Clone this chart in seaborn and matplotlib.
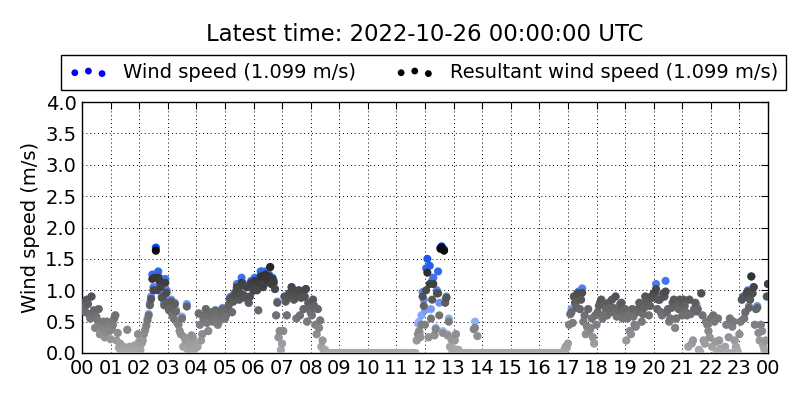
import numpy as np
import pandas as pd
import matplotlib
matplotlib.use("Agg")
import matplotlib.pyplot as plt
from matplotlib.colors import LinearSegmentedColormap
import seaborn as sns

hours_labels = ["00", "01", "02", "03", "04", "05", "06", "07", "08", "09", "10", "11",
                "12", "13", "14", "15", "16", "17", "18", "19", "20", "21", "22", "23", "00"]
y_ticks = [0.0, 0.5, 1.0, 1.5, 2.0, 2.5, 3.0, 3.5, 4.0]
title = "Latest time: 2022-10-26 00:00:00 UTC"
label_ws = "Wind speed (1.099 m/s)"
label_rws = "Resultant wind speed (1.099 m/s)"

# samples on the 5-minute marks (00:05 ... 24:00), one row per hour
wind_speed = [
    0.72, 0.85, 0.62, 0.90, 0.68, 0.58, 0.70, 0.45, 0.50, 0.33, 0.42, 0.22,
    0.45, 0.60, 0.32, 0.15, 0.05, 0.02, 0.37, 0.10, 0.03, 0.12, 0.05, 0.18,
    0.15, 0.30, 0.45, 0.62, 0.90, 1.05, 1.68, 1.30, 1.10, 0.95, 1.18, 0.85,
    0.75, 0.62, 0.80, 0.50, 0.35, 0.58, 0.25, 0.78, 0.12, 0.28, 0.05, 0.15,
    0.63, 0.20, 0.55, 0.70, 0.35, 0.62, 0.50, 0.68, 0.45, 0.60, 0.72, 0.55,
    0.70, 0.88, 0.65, 0.95, 1.10, 0.85, 1.20, 0.92, 1.05, 0.80, 1.15, 1.00,
    1.10, 0.68, 1.30, 1.05, 1.30, 1.15, 1.37, 1.20, 1.02, 0.82, 0.35, 0.15,
    0.90, 0.60, 0.95, 1.05, 0.85, 0.55, 1.00, 0.88, 0.70, 1.02, 0.80, 0.65,
    0.85, 0.45, 0.70, 0.52, 0.20, 0.05, 0.00, 0.00, 0.00, 0.00, 0.00, 0.00,
    0.00, 0.00, 0.00, 0.00, 0.00, 0.00, 0.00, 0.00, 0.00, 0.00, 0.00, 0.00,
    0.00, 0.00, 0.00, 0.00, 0.00, 0.00, 0.00, 0.00, 0.00, 0.00, 0.00, 0.00,
    0.00, 0.00, 0.00, 0.00, 0.00, 0.00, 0.00, 0.00, 0.47, 0.32, 0.97, 0.68,
    1.50, 1.39, 1.15, 0.30, 1.00, 0.80, 1.70, 1.65, 0.90, 0.55, 0.25, 0.08,
    0.30, 0.05, 0.00, 0.00, 0.00, 0.00, 0.00, 0.00, 0.50, 0.27, 0.00, 0.00,
    0.00, 0.00, 0.00, 0.00, 0.00, 0.00, 0.00, 0.00, 0.00, 0.00, 0.00, 0.00,
    0.00, 0.00, 0.00, 0.00, 0.00, 0.00, 0.00, 0.00, 0.00, 0.00, 0.00, 0.00,
    0.00, 0.00, 0.00, 0.00, 0.00, 0.00, 0.00, 0.00, 0.00, 0.00, 0.10, 0.15,
    0.62, 0.48, 0.80, 0.95, 0.70, 1.03, 0.60, 0.42, 0.35, 0.55, 0.15, 0.45,
    0.75, 0.85, 0.60, 0.70, 0.80, 0.65, 0.72, 0.90, 0.68, 0.78, 0.55, 0.70,
    0.55, 0.35, 0.70, 0.45, 0.65, 0.80, 0.50, 0.72, 0.85, 0.60, 0.90, 0.95,
    1.10, 0.85, 0.65, 0.95, 1.15, 0.70, 0.55, 0.80, 0.40, 0.75, 0.85, 0.60,
    0.75, 0.60, 0.85, 0.15, 0.70, 0.76, 0.05, 0.95, 0.20, 0.50, 0.35, 0.55,
    0.60, 0.18, 0.55, 0.07, 0.00, 0.10, 0.00, 0.55, 0.42, 0.20, 0.05, 0.30,
    0.85, 0.55, 0.95, 0.75, 1.22, 1.05, 0.70, 0.32, 0.45, 0.12, 0.20, 1.099,
]

resultant_speed = [
    0.72, 0.85, 0.62, 0.90, 0.68, 0.58, 0.70, 0.45, 0.50, 0.33, 0.42, 0.22,
    0.45, 0.60, 0.32, 0.15, 0.05, 0.02, 0.37, 0.10, 0.03, 0.12, 0.05, 0.18,
    0.15, 0.30, 0.43, 0.60, 0.86, 1.00, 1.63, 1.20, 1.05, 0.90, 1.12, 0.80,
    0.72, 0.60, 0.78, 0.48, 0.35, 0.55, 0.25, 0.74, 0.12, 0.28, 0.05, 0.15,
    0.63, 0.20, 0.55, 0.70, 0.35, 0.62, 0.50, 0.68, 0.45, 0.60, 0.70, 0.55,
    0.70, 0.85, 0.65, 0.92, 1.05, 0.85, 1.12, 0.92, 1.05, 0.80, 1.12, 1.00,
    1.05, 0.68, 1.22, 1.05, 1.25, 1.15, 1.37, 1.18, 1.02, 0.80, 0.35, 0.15,
    0.90, 0.60, 0.95, 1.05, 0.85, 0.55, 1.00, 0.88, 0.70, 1.02, 0.80, 0.65,
    0.85, 0.45, 0.70, 0.52, 0.20, 0.05, 0.00, 0.00, 0.00, 0.00, 0.00, 0.00,
    0.00, 0.00, 0.00, 0.00, 0.00, 0.00, 0.00, 0.00, 0.00, 0.00, 0.00, 0.00,
    0.00, 0.00, 0.00, 0.00, 0.00, 0.00, 0.00, 0.00, 0.00, 0.00, 0.00, 0.00,
    0.00, 0.00, 0.00, 0.00, 0.00, 0.00, 0.00, 0.00, 0.30, 0.25, 0.90, 0.45,
    1.28, 1.10, 0.85, 0.28, 0.95, 0.60, 1.68, 1.63, 0.88, 0.50, 0.22, 0.06,
    0.30, 0.05, 0.00, 0.00, 0.00, 0.00, 0.00, 0.00, 0.40, 0.27, 0.00, 0.00,
    0.00, 0.00, 0.00, 0.00, 0.00, 0.00, 0.00, 0.00, 0.00, 0.00, 0.00, 0.00,
    0.00, 0.00, 0.00, 0.00, 0.00, 0.00, 0.00, 0.00, 0.00, 0.00, 0.00, 0.00,
    0.00, 0.00, 0.00, 0.00, 0.00, 0.00, 0.00, 0.00, 0.00, 0.00, 0.10, 0.15,
    0.62, 0.48, 0.80, 0.95, 0.70, 0.96, 0.60, 0.42, 0.35, 0.55, 0.15, 0.45,
    0.75, 0.85, 0.60, 0.70, 0.80, 0.65, 0.72, 0.90, 0.68, 0.78, 0.55, 0.70,
    0.55, 0.35, 0.70, 0.45, 0.65, 0.80, 0.50, 0.72, 0.85, 0.60, 0.90, 0.95,
    1.02, 0.85, 0.65, 0.95, 0.98, 0.70, 0.55, 0.80, 0.40, 0.75, 0.85, 0.60,
    0.75, 0.60, 0.85, 0.15, 0.70, 0.66, 0.05, 0.95, 0.20, 0.50, 0.35, 0.55,
    0.60, 0.18, 0.55, 0.07, 0.00, 0.10, 0.00, 0.55, 0.42, 0.20, 0.05, 0.30,
    0.85, 0.55, 0.95, 0.72, 1.22, 1.05, 0.70, 0.32, 0.45, 0.12, 0.20, 1.099,
]

# samples half-way between the 5-minute marks (00:02:30 ... 23:57:30)
wind_speed_mid = [
    0.80, 0.65, 0.78, 0.55, 0.62, 0.40, 0.52, 0.30, 0.40, 0.25, 0.50, 0.35,
    0.38, 0.55, 0.20, 0.08, 0.00, 0.10, 0.05, 0.00, 0.08, 0.02, 0.10, 0.30,
    0.05, 0.20, 0.38, 0.55, 0.80, 1.25, 1.25, 1.05, 1.20, 0.90, 0.80, 1.00,
    0.70, 0.85, 0.55, 0.68, 0.45, 0.30, 0.10, 0.20, 0.05, 0.15, 0.25, 0.08,
    0.10, 0.45, 0.30, 0.60, 0.48, 0.58, 0.65, 0.55, 0.62, 0.50, 0.65, 0.68,
    0.60, 0.75, 0.90, 0.82, 0.98, 1.05, 0.95, 1.12, 0.88, 1.08, 0.90, 1.10,
    1.20, 1.00, 1.12, 1.30, 1.10, 1.22, 1.25, 1.10, 1.15, 0.60, 0.25, 0.05,
    0.35, 0.82, 0.88, 0.92, 1.00, 0.90, 0.95, 0.60, 0.98, 0.90, 0.50, 0.70,
    0.60, 0.75, 0.30, 0.40, 0.10, 0.02, 0.00, 0.00, 0.00, 0.00, 0.00, 0.00,
    0.00, 0.00, 0.00, 0.00, 0.00, 0.00, 0.00, 0.00, 0.00, 0.00, 0.00, 0.00,
    0.00, 0.00, 0.00, 0.00, 0.00, 0.00, 0.00, 0.00, 0.00, 0.00, 0.00, 0.00,
    0.00, 0.00, 0.00, 0.00, 0.00, 0.00, 0.00, 0.00, 0.20, 0.50, 0.60, 0.85,
    1.35, 0.25, 0.70, 1.20, 0.40, 1.30, 1.68, 0.35, 0.85, 0.30, 0.10, 0.02,
    0.20, 0.02, 0.00, 0.00, 0.00, 0.00, 0.00, 0.00, 0.38, 0.00, 0.00, 0.00,
    0.00, 0.00, 0.00, 0.00, 0.00, 0.00, 0.00, 0.00, 0.00, 0.00, 0.00, 0.00,
    0.00, 0.00, 0.00, 0.00, 0.00, 0.00, 0.00, 0.00, 0.00, 0.00, 0.00, 0.00,
    0.00, 0.00, 0.00, 0.00, 0.00, 0.00, 0.00, 0.00, 0.00, 0.00, 0.05, 0.08,
    0.45, 0.70, 0.90, 0.75, 0.98, 0.85, 0.50, 0.30, 0.70, 0.40, 0.25, 0.60,
    0.65, 0.80, 0.55, 0.78, 0.60, 0.72, 0.85, 0.65, 0.58, 0.70, 0.80, 0.62,
    0.20, 0.60, 0.30, 0.58, 0.42, 0.70, 0.75, 0.62, 0.90, 0.80, 0.75, 0.88,
    0.95, 0.70, 0.85, 0.60, 0.90, 0.65, 0.50, 0.72, 0.85, 0.55, 0.70, 0.80,
    0.85, 0.65, 0.10, 0.62, 0.20, 0.80, 0.70, 0.02, 0.60, 0.15, 0.45, 0.25,
    0.10, 0.50, 0.02, 0.20, 0.00, 0.05, 0.45, 0.25, 0.00, 0.50, 0.10, 0.00,
    0.50, 0.90, 0.65, 1.00, 0.85, 0.95, 0.45, 0.75, 0.20, 0.35, 0.05, 0.90,
]

resultant_speed_mid = [
    0.80, 0.65, 0.78, 0.55, 0.62, 0.40, 0.52, 0.30, 0.40, 0.25, 0.50, 0.35,
    0.38, 0.55, 0.20, 0.08, 0.00, 0.10, 0.05, 0.00, 0.08, 0.02, 0.10, 0.30,
    0.05, 0.20, 0.36, 0.52, 0.76, 1.18, 1.20, 1.00, 1.15, 0.88, 0.76, 0.96,
    0.68, 0.82, 0.55, 0.66, 0.45, 0.30, 0.10, 0.20, 0.05, 0.15, 0.25, 0.08,
    0.10, 0.45, 0.30, 0.60, 0.48, 0.58, 0.65, 0.55, 0.62, 0.50, 0.65, 0.68,
    0.60, 0.75, 0.88, 0.82, 0.96, 1.00, 0.95, 1.08, 0.88, 1.05, 0.90, 1.08,
    1.15, 1.00, 1.12, 1.22, 1.10, 1.20, 1.22, 1.10, 1.12, 0.60, 0.25, 0.05,
    0.35, 0.82, 0.88, 0.92, 1.00, 0.90, 0.95, 0.60, 0.98, 0.90, 0.50, 0.70,
    0.60, 0.75, 0.30, 0.40, 0.10, 0.02, 0.00, 0.00, 0.00, 0.00, 0.00, 0.00,
    0.00, 0.00, 0.00, 0.00, 0.00, 0.00, 0.00, 0.00, 0.00, 0.00, 0.00, 0.00,
    0.00, 0.00, 0.00, 0.00, 0.00, 0.00, 0.00, 0.00, 0.00, 0.00, 0.00, 0.00,
    0.00, 0.00, 0.00, 0.00, 0.00, 0.00, 0.00, 0.00, 0.20, 0.35, 0.45, 0.75,
    1.00, 0.25, 0.55, 1.10, 0.38, 0.95, 1.66, 0.32, 0.80, 0.28, 0.10, 0.02,
    0.20, 0.02, 0.00, 0.00, 0.00, 0.00, 0.00, 0.00, 0.38, 0.00, 0.00, 0.00,
    0.00, 0.00, 0.00, 0.00, 0.00, 0.00, 0.00, 0.00, 0.00, 0.00, 0.00, 0.00,
    0.00, 0.00, 0.00, 0.00, 0.00, 0.00, 0.00, 0.00, 0.00, 0.00, 0.00, 0.00,
    0.00, 0.00, 0.00, 0.00, 0.00, 0.00, 0.00, 0.00, 0.00, 0.00, 0.05, 0.08,
    0.45, 0.65, 0.90, 0.72, 0.95, 0.85, 0.50, 0.30, 0.70, 0.40, 0.25, 0.60,
    0.65, 0.80, 0.55, 0.78, 0.60, 0.72, 0.85, 0.65, 0.58, 0.70, 0.80, 0.62,
    0.20, 0.60, 0.30, 0.58, 0.42, 0.70, 0.75, 0.62, 0.90, 0.80, 0.75, 0.88,
    0.95, 0.70, 0.85, 0.60, 0.90, 0.65, 0.50, 0.72, 0.85, 0.55, 0.70, 0.80,
    0.85, 0.65, 0.10, 0.62, 0.20, 0.80, 0.70, 0.02, 0.60, 0.15, 0.45, 0.25,
    0.10, 0.50, 0.02, 0.20, 0.00, 0.05, 0.45, 0.25, 0.00, 0.50, 0.10, 0.00,
    0.50, 0.88, 0.65, 0.98, 0.85, 0.95, 0.45, 0.72, 0.20, 0.35, 0.05, 0.90,
]

n = len(wind_speed)
hour_marks = np.arange(1, n + 1) * 5 / 60.0
hour_mid = (np.arange(n) * 5 + 2.5) / 60.0
df = pd.DataFrame({
    "hour": np.concatenate([hour_mid, hour_marks]),
    "ws": wind_speed_mid + wind_speed,
    "rws": resultant_speed_mid + resultant_speed,
}).sort_values("hour")

sns.set_style("white")
plt.rcParams["font.family"] = ["DejaVu Sans"]
plt.rcParams["text.color"] = "black"
plt.rcParams["axes.labelcolor"] = "black"
plt.rcParams["xtick.color"] = "black"
plt.rcParams["ytick.color"] = "black"

blue_cmap = LinearSegmentedColormap.from_list("bl", ["#c4dbff", "#0040e8"])
grey_cmap = LinearSegmentedColormap.from_list("gr", ["#ababab", "#000000"])

fig = plt.figure(figsize=(8, 4), dpi=100)
ax = fig.add_axes([0.1025, 0.1175, 0.8575, 0.6275])

sns.scatterplot(data=df, x="hour", y="ws", hue="ws", palette=blue_cmap,
                hue_norm=(0, 1.75), s=34, linewidth=0, legend=False, ax=ax,
                zorder=3)
sns.scatterplot(data=df, x="hour", y="rws", hue="rws", palette=grey_cmap,
                hue_norm=(0, 1.75), s=34, linewidth=0, legend=False, ax=ax,
                zorder=4)

ax.set_xlim(0, 24)
ax.set_ylim(0, 4.0)
ax.set_xticks(range(25))
ax.set_xticklabels(hours_labels)
ax.set_yticks(y_ticks)
ax.set_yticklabels([f"{v:.1f}" for v in y_ticks])
ax.set_xlabel("")
ax.set_ylabel("Wind speed (m/s)", fontsize=14, color="black")
ax.tick_params(axis="both", direction="in", length=5, width=0.8, top=True,
               right=True, labelsize=14, pad=4, colors="black")
ax.grid(True, linestyle=(0, (1, 3)), color="black", linewidth=0.7)
for sp in ax.spines.values():
    sp.set_color("black")
    sp.set_linewidth(1.0)
    sp.set_visible(True)

ax.text(0.5, 1.267, title, transform=ax.transAxes, ha="center", va="center",
        fontsize=16.4, color="black")

h1 = ax.scatter([], [], s=24, c="blue", linewidths=0, label=label_ws)
h2 = ax.scatter([], [], s=24, c="black", linewidths=0, label=label_rws)
leg = ax.legend(handles=[h1, h2], labels=[label_ws, label_rws],
                loc="upper center", bbox_to_anchor=(0.4978, 1.187),
                ncol=2, fontsize=14, frameon=True, fancybox=False,
                edgecolor="black", framealpha=1, borderaxespad=0, scatterpoints=3,
                scatteryoffsets=[0.375, 0.5, 0.3125], handlelength=2.0,
                handletextpad=0.8, borderpad=0.4, columnspacing=2.0)
leg.get_frame().set_linewidth(1.0)
for t in leg.get_texts():
    t.set_color("black")

fig.savefig("out.png", dpi=100)
